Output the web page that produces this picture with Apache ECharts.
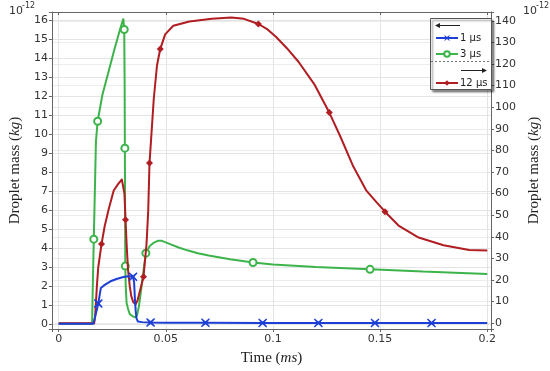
<!DOCTYPE html>
<html><head><meta charset="utf-8">
<script src="https://cdn.jsdelivr.net/npm/echarts@6/dist/echarts.min.js"></script>
<style>html,body{margin:0;padding:0;background:#fff}#c{width:550px;height:371px}</style>
</head><body><div id="c"></div>
<script>
// ---- data ----
const xTickLabels = ['0', '0.05', '0.1', '0.15', '0.2'];
const seriesNames = ['1 μs', '3 μs', '12 μs'];

// 1 μs  (left axis, ×10^-12 kg)
const t1 = [0, 0.0162, 0.0172, 0.0185, 0.0197, 0.0215, 0.0242, 0.027, 0.0302, 0.0325, 0.0347, 0.0352, 0.0356, 0.036, 0.0364, 0.037, 0.039, 0.0429, 0.05, 0.0685, 0.0952, 0.1212, 0.1476, 0.174, 0.2];
const m1 = [0, 0, 0.45, 1.07, 1.89, 2.05, 2.24, 2.36, 2.47, 2.5, 2.48, 2.2, 1.3, 0.6, 0.26, 0.12, 0.09, 0.07, 0.06, 0.06, 0.05, 0.05, 0.05, 0.04, 0.04];
const mk1 = [0.0185, 0.0347, 0.0429, 0.0685, 0.0952, 0.1212, 0.1476, 0.174];

// 3 μs  (left axis)
const t2 = [0, 0.0156, 0.0159, 0.0164, 0.0169, 0.0174, 0.0182, 0.0204, 0.023, 0.026, 0.0285, 0.0302, 0.0306, 0.0308, 0.0309, 0.0311, 0.0313, 0.0317, 0.0324, 0.0332, 0.0345, 0.0358, 0.0366, 0.0375, 0.0385, 0.0396, 0.0407, 0.0425, 0.0445, 0.0465, 0.0482, 0.052, 0.056, 0.06, 0.065, 0.07, 0.08, 0.0907, 0.1, 0.12, 0.1453, 0.17, 0.2];
const m2 = [0, 0, 1.8, 4.46, 7.0, 9.6, 10.67, 12.05, 13.15, 14.45, 15.45, 16.08, 15.5, 12.5, 9.25, 3.04, 2.0, 1.1, 0.78, 0.51, 0.4, 0.34, 0.45, 0.95, 1.8, 2.8, 3.72, 4.1, 4.28, 4.38, 4.37, 4.2, 4.02, 3.87, 3.72, 3.6, 3.4, 3.23, 3.13, 2.99, 2.87, 2.75, 2.63];
const mk2 = [0.0164, 0.0182, 0.0306, 0.0309, 0.0311, 0.0407, 0.0907, 0.1453];

// 12 μs (right axis)
const t3 = [0, 0.0166, 0.017, 0.0174, 0.0179, 0.0185, 0.02, 0.0215, 0.0234, 0.0257, 0.0278, 0.0295, 0.0302, 0.0307, 0.0312, 0.0318, 0.0324, 0.0332, 0.0339, 0.0348, 0.0359, 0.0368, 0.0377, 0.0396, 0.041, 0.0418, 0.0424, 0.0432, 0.0444, 0.0459, 0.0474, 0.0497, 0.0535, 0.061, 0.0715, 0.0805, 0.0865, 0.0932, 0.0975, 0.1015, 0.1065, 0.112, 0.1195, 0.1263, 0.1315, 0.1375, 0.1435, 0.1485, 0.1523, 0.1586, 0.1676, 0.1796, 0.1916, 0.2];
const m3 = [0, 0, 3, 9.5, 18, 26, 36.6, 45, 53, 61.4, 64.5, 66.5, 67.1, 60, 47.9, 35, 24.5, 17, 12.5, 9.8, 8.7, 10.5, 14, 21.5, 36.6, 52, 74.2, 86, 104, 119.4, 126.9, 133.7, 137.7, 139.7, 140.9, 141.5, 140.9, 138.5, 136, 132.5, 127.3, 120.9, 110.3, 97.5, 86.3, 72.5, 61.5, 55.8, 51.6, 45.2, 39.8, 36.1, 33.9, 33.6];
const mk3 = [0.02, 0.0312, 0.0396, 0.0424, 0.0474, 0.0932, 0.1263, 0.1523];

// ---- build ----
const BLUE = '#1d3fd6', GREEN = '#3cb44b', RED = '#b01d22';
const xPath = 'path://M1,0 L5,3.4 L9,0 L10,1 L6.6,5 L10,9 L9,10 L5,6.6 L1,10 L0,9 L3.4,5 L0,1 Z';
function build(ts, ms, marks) {
  return ts.map((t, i) => {
    const d = { value: [t, ms[i]] };
    if (marks.indexOf(t) < 0) d.symbol = 'none';
    return d;
  });
}
const tickFont = { fontFamily: 'DejaVu Sans', fontSize: 11, color: '#333' };
const serif = 'Liberation Serif';
const nameRich = {
  n: { fontFamily: serif, fontSize: 15, color: '#222' },
  i: { fontFamily: serif, fontSize: 15, color: '#222', fontStyle: 'italic' }
};
function multipleOf(v, step) { return Math.abs(v / step - Math.round(v / step)) < 1e-6; }

const chart = echarts.init(document.getElementById('c'), null, { renderer: 'canvas' });
const gL = 41, gR = 495, gT = 12, gB = 337;
const legendText = { fontFamily: 'DejaVu Sans', fontSize: 10, color: '#222', padding: [0, 0, 0, -3] };
chart.setOption({
  animation: false,
  grid: { left: gL, right: 550 - gR, top: gT, bottom: 371 - gB },
  xAxis: [{
    type: 'value', min: -0.00315, max: 0.2018, splitNumber: 4, minInterval: 0.05, maxInterval: 0.05,
    axisLine: { show: true, onZero: false, lineStyle: { color: '#666' } },
    axisTick: { show: true, length: 3, lineStyle: { color: '#666' } },
    axisLabel: Object.assign({ margin: 5, formatter: v => {
      if (!multipleOf(v, 0.05)) return '';
      const k = Math.round(v / 0.05); return xTickLabels[k] || '';
    } }, tickFont),
    splitLine: { show: true, lineStyle: { color: '#e4e4e4' } },
    name: '{n|Time (}{i|ms}{n|)}', nameLocation: 'middle', nameGap: 22,
    nameTextStyle: { rich: nameRich }
  }, {
    type: 'value', position: 'top', min: -0.00315, max: 0.2018, splitNumber: 4, minInterval: 0.05, maxInterval: 0.05,
    axisLine: { show: true, onZero: false, lineStyle: { color: '#666' } },
    axisTick: { show: true, inside: true, length: 3, lineStyle: { color: '#666' } },
    axisLabel: { show: false }, splitLine: { show: false }
  }],
  yAxis: [{
    type: 'value', min: -0.272, max: 16.42, splitNumber: 16, minInterval: 1, maxInterval: 1,
    axisLine: { show: true, onZero: false, lineStyle: { color: '#666' } },
    axisTick: { show: true, length: 3, lineStyle: { color: '#666' } },
    axisLabel: Object.assign({ margin: 4, formatter: v => multipleOf(v, 1) ? String(Math.round(v)) : '' }, tickFont),
    splitLine: { show: true, lineStyle: { color: '#e4e4e4' } },
    name: '{n|Droplet mass (}{i|kg}{n|)}', nameLocation: 'middle', nameRotate: 90, nameGap: 24,
    nameTextStyle: { rich: nameRich }
  }, {
    type: 'value', position: 'right', min: -2.71, max: 144.06, splitNumber: 14, minInterval: 10, maxInterval: 10,
    axisLine: { show: true, onZero: false, lineStyle: { color: '#666' } },
    axisTick: { show: true, length: 3, lineStyle: { color: '#666' } },
    axisLabel: Object.assign({ margin: 4, formatter: v => multipleOf(v, 10) ? String(Math.round(v)) : '' }, tickFont),
    splitLine: { show: true, lineStyle: { color: '#ececec' } },
    name: '{n|Droplet mass (}{i|kg}{n|)}', nameLocation: 'middle', nameRotate: 90, nameGap: 32,
    nameTextStyle: { rich: nameRich }
  }],
  legend: [{
    z: 100,
    data: [seriesNames[0], seriesNames[1]], orient: 'vertical', left: 435, top: 33, padding: 0,
    itemWidth: 22, itemHeight: 7, itemGap: 6, textStyle: legendText
  }, {
    z: 100,
    data: [seriesNames[2]], orient: 'vertical', left: 435, top: 78, padding: 0,
    itemWidth: 22, itemHeight: 7, textStyle: legendText
  }],
  series: [{
    name: seriesNames[1], type: 'line', xAxisIndex: 0, yAxisIndex: 0, z: 2,
    data: build(t2, m2, mk2), symbol: 'emptyCircle', symbolSize: 7, showAllSymbol: true,
    lineStyle: { color: GREEN, width: 2 }, itemStyle: { color: GREEN, borderWidth: 1.5 }
  }, {
    name: seriesNames[2], type: 'line', xAxisIndex: 0, yAxisIndex: 1, z: 3,
    data: build(t3, m3, mk3), symbol: 'diamond', symbolSize: 7, showAllSymbol: true,
    lineStyle: { color: RED, width: 2, join: 'round' }, itemStyle: { color: RED }
  }, {
    name: seriesNames[0], type: 'line', xAxisIndex: 0, yAxisIndex: 0, z: 4,
    data: build(t1, m1, mk1), symbol: xPath, symbolSize: 9, showAllSymbol: true,
    lineStyle: { color: BLUE, width: 2 }, itemStyle: { color: BLUE }
  }],
  graphic: [
    { type: 'text', left: 9, top: 6, style: { text: '10', fontFamily: 'DejaVu Sans', fontSize: 11, fill: '#333' } },
    { type: 'text', left: 22, top: 2, style: { text: '-12', fontFamily: 'DejaVu Sans', fontSize: 8, fill: '#333' } },
    { type: 'text', left: 523, top: 6, style: { text: '10', fontFamily: 'DejaVu Sans', fontSize: 11, fill: '#333' } },
    { type: 'text', left: 536, top: 2, style: { text: '-12', fontFamily: 'DejaVu Sans', fontSize: 8, fill: '#333' } },
    { type: 'rect', z: 50, shape: { x: 430.5, y: 18.5, width: 61, height: 71 },
      style: { fill: '#fff', stroke: '#555', lineWidth: 1, shadowColor: 'rgba(0,0,0,0.45)', shadowBlur: 2, shadowOffsetX: 2, shadowOffsetY: 2 } },
    { type: 'line', z: 51, shape: { x1: 438, y1: 25.5, x2: 460, y2: 25.5 }, style: { stroke: '#222', lineWidth: 1 } },
    { type: 'polygon', z: 51, shape: { points: [[435, 25.5], [440, 23], [440, 28]] }, style: { fill: '#222' } },
    { type: 'line', z: 51, shape: { x1: 431, y1: 61.5, x2: 491, y2: 61.5 }, style: { stroke: '#777', lineWidth: 1, lineDash: [2, 2] } },
    { type: 'line', z: 51, shape: { x1: 461, y1: 70.5, x2: 484, y2: 70.5 }, style: { stroke: '#222', lineWidth: 1 } },
    { type: 'polygon', z: 51, shape: { points: [[487, 70.5], [482, 68], [482, 73]] }, style: { fill: '#222' } }
  ]
});
</script></body></html>
